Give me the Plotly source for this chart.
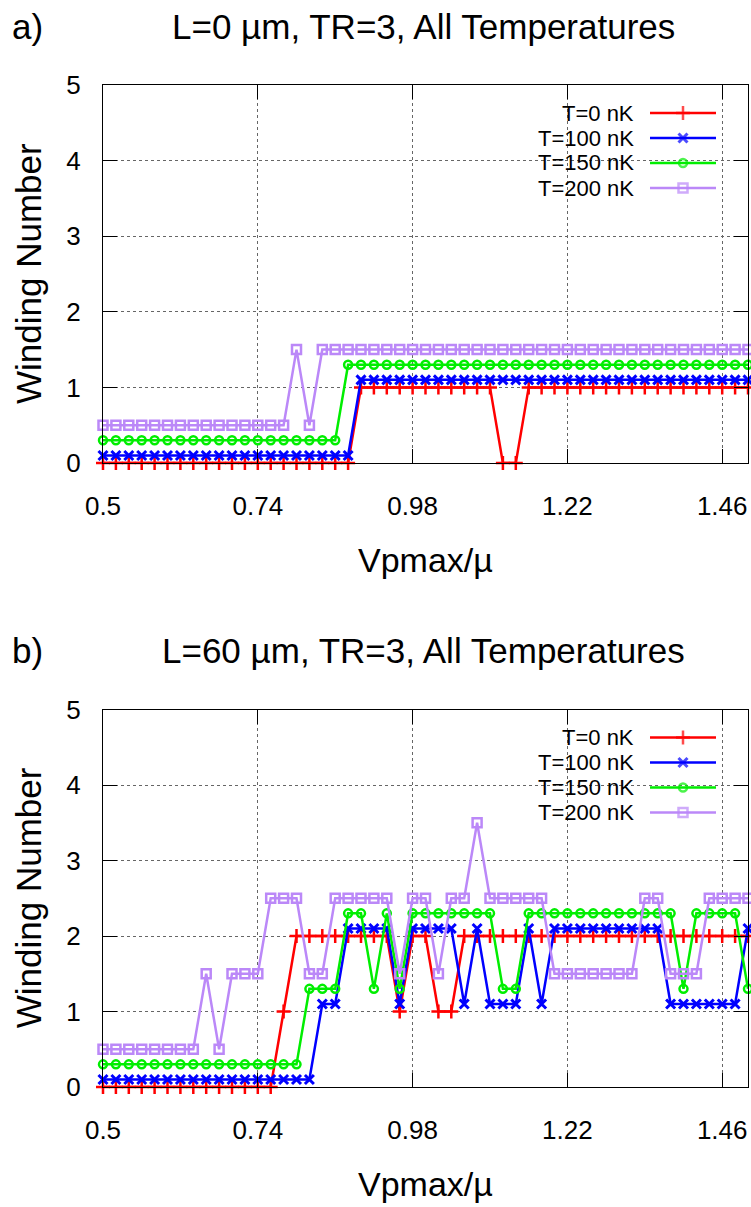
import plotly.graph_objects as go

# ---------------- data ----------------
vp = [0.50, 0.52, 0.54, 0.56, 0.58, 0.60, 0.62, 0.64, 0.66, 0.68,
      0.70, 0.72, 0.74, 0.76, 0.78, 0.80, 0.82, 0.84, 0.86, 0.88,
      0.90, 0.92, 0.94, 0.96, 0.98, 1.00, 1.02, 1.04, 1.06, 1.08,
      1.10, 1.12, 1.14, 1.16, 1.18, 1.20, 1.22, 1.24, 1.26, 1.28,
      1.30, 1.32, 1.34, 1.36, 1.38, 1.40, 1.42, 1.44, 1.46, 1.48,
      1.50]

a_T0 = [0, 0, 0, 0, 0, 0, 0, 0, 0, 0,
        0, 0, 0, 0, 0, 0, 0, 0, 0, 0,
        1, 1, 1, 1, 1, 1, 1, 1, 1, 1,
        1, 0, 0, 1, 1, 1, 1, 1, 1, 1,
        1, 1, 1, 1, 1, 1, 1, 1, 1, 1,
        1]
a_T100 = [0.1, 0.1, 0.1, 0.1, 0.1, 0.1, 0.1, 0.1, 0.1, 0.1,
          0.1, 0.1, 0.1, 0.1, 0.1, 0.1, 0.1, 0.1, 0.1, 0.1,
          1.1, 1.1, 1.1, 1.1, 1.1, 1.1, 1.1, 1.1, 1.1, 1.1,
          1.1, 1.1, 1.1, 1.1, 1.1, 1.1, 1.1, 1.1, 1.1, 1.1,
          1.1, 1.1, 1.1, 1.1, 1.1, 1.1, 1.1, 1.1, 1.1, 1.1,
          1.1]
a_T150 = [0.3, 0.3, 0.3, 0.3, 0.3, 0.3, 0.3, 0.3, 0.3, 0.3,
          0.3, 0.3, 0.3, 0.3, 0.3, 0.3, 0.3, 0.3, 0.3, 1.3,
          1.3, 1.3, 1.3, 1.3, 1.3, 1.3, 1.3, 1.3, 1.3, 1.3,
          1.3, 1.3, 1.3, 1.3, 1.3, 1.3, 1.3, 1.3, 1.3, 1.3,
          1.3, 1.3, 1.3, 1.3, 1.3, 1.3, 1.3, 1.3, 1.3, 1.3,
          1.3]
a_T200 = [0.5, 0.5, 0.5, 0.5, 0.5, 0.5, 0.5, 0.5, 0.5, 0.5,
          0.5, 0.5, 0.5, 0.5, 0.5, 1.5, 0.5, 1.5, 1.5, 1.5,
          1.5, 1.5, 1.5, 1.5, 1.5, 1.5, 1.5, 1.5, 1.5, 1.5,
          1.5, 1.5, 1.5, 1.5, 1.5, 1.5, 1.5, 1.5, 1.5, 1.5,
          1.5, 1.5, 1.5, 1.5, 1.5, 1.5, 1.5, 1.5, 1.5, 1.5,
          1.5]

b_T0 = [0, 0, 0, 0, 0, 0, 0, 0, 0, 0,
        0, 0, 0, 0, 1, 2, 2, 2, 2, 2,
        2, 2, 2, 1, 2, 2, 1, 1, 2, 2,
        2, 2, 2, 2, 2, 2, 2, 2, 2, 2,
        2, 2, 2, 2, 2, 2, 2, 2, 2, 2,
        2]
b_T100 = [0.1, 0.1, 0.1, 0.1, 0.1, 0.1, 0.1, 0.1, 0.1, 0.1,
          0.1, 0.1, 0.1, 0.1, 0.1, 0.1, 0.1, 1.1, 1.1, 2.1,
          2.1, 2.1, 2.1, 1.1, 2.1, 2.1, 2.1, 2.1, 1.1, 2.1,
          1.1, 1.1, 1.1, 2.1, 1.1, 2.1, 2.1, 2.1, 2.1, 2.1,
          2.1, 2.1, 2.1, 2.1, 1.1, 1.1, 1.1, 1.1, 1.1, 1.1,
          2.1]
b_T150 = [0.3, 0.3, 0.3, 0.3, 0.3, 0.3, 0.3, 0.3, 0.3, 0.3,
          0.3, 0.3, 0.3, 0.3, 0.3, 0.3, 1.3, 1.3, 1.3, 2.3,
          2.3, 1.3, 2.3, 1.3, 2.3, 2.3, 2.3, 2.3, 2.3, 2.3,
          2.3, 1.3, 1.3, 2.3, 2.3, 2.3, 2.3, 2.3, 2.3, 2.3,
          2.3, 2.3, 2.3, 2.3, 2.3, 1.3, 2.3, 2.3, 2.3, 2.3,
          1.3]
b_T200 = [0.5, 0.5, 0.5, 0.5, 0.5, 0.5, 0.5, 0.5, 1.5, 0.5,
          1.5, 1.5, 1.5, 2.5, 2.5, 2.5, 1.5, 1.5, 2.5, 2.5,
          2.5, 2.5, 2.5, 1.5, 2.5, 2.5, 1.5, 2.5, 2.5, 3.5,
          2.5, 2.5, 2.5, 2.5, 2.5, 1.5, 1.5, 1.5, 1.5, 1.5,
          1.5, 1.5, 2.5, 2.5, 1.5, 1.5, 1.5, 2.5, 2.5, 2.5,
          2.5]

series_names = ["T=0 nK", "T=100 nK", "T=150 nK", "T=200 nK"]
panel_a = [a_T0, a_T100, a_T150, a_T200]
panel_b = [b_T0, b_T100, b_T150, b_T200]
panel_titles = ["L=0 µm, TR=3, All Temperatures", "L=60 µm, TR=3, All Temperatures"]
panel_tags = ["a)", "b)"]

x_tickvals = [0.5, 0.74, 0.98, 1.22, 1.46]
x_ticktext = ["0.5", "0.74", "0.98", "1.22", "1.46"]
y_tickvals = [0, 1, 2, 3, 4, 5]

# ---------------- styles ----------------
W, H = 751, 1207
FONT = "Liberation Sans, Arial, sans-serif"
colors = ["#ff0000", "#0000ff", "#00ee00", "#bb88f8"]
symbols = ["cross-thin", "x-thin", "circle-open", "square-open"]
msizes = [10, 9, 8, 9]
mlw = [2.5, 3, 2.5, 2.5]
LW = 2.5

# pixel layout of the two plot areas (left, right, top, bottom)
X_L, X_R = 103, 748
panels_px = [(85, 463), (709.5, 1087)]

def fx(px):
    return px / W

def fy(py):
    return 1 - py / H

fig = go.Figure()

for p, (data, (top, bot)) in enumerate(zip([panel_a, panel_b], panels_px)):
    xa = "x" if p == 0 else "x2"
    ya = "y" if p == 0 else "y2"
    for k in range(4):
        fig.add_trace(go.Scatter(
            x=vp, y=data[k], mode="lines+markers", name=series_names[k],
            xaxis=xa, yaxis=ya, showlegend=False, cliponaxis=False,
            line=dict(color=colors[k], width=LW),
            marker=dict(symbol=symbols[k], size=msizes[k], color=colors[k],
                        line=dict(color=colors[k], width=mlw[k])),
        ))
    axis_common = dict(
        showline=True, linecolor="black", linewidth=1, mirror="ticks",
        ticks="inside", ticklen=14, tickcolor="black", tickwidth=1,
        showgrid=True, gridcolor="#666666", griddash="dot", gridwidth=1,
        zeroline=False, automargin=False,
        tickfont=dict(family=FONT, size=26, color="black"),
    )
    xkey = "xaxis" if p == 0 else "xaxis2"
    ykey = "yaxis" if p == 0 else "yaxis2"
    fig.update_layout({
        xkey: dict(axis_common, domain=[fx(X_L), fx(X_R)], range=[0.5, 1.5],
                   tickvals=x_tickvals, ticktext=x_ticktext, anchor=ya,
                   ticklabelstandoff=20),
        ykey: dict(axis_common, domain=[fy(bot), fy(top)], range=[0, 5],
                   tickvals=y_tickvals, anchor=xa, ticklabelstandoff=16),
    })

    # title, tag, axis titles
    fig.add_annotation(text=panel_tags[p], xref="paper", yref="paper",
                       x=fx(10), y=fy(top - 59), xanchor="left", yanchor="middle",
                       showarrow=False, font=dict(family=FONT, size=35, color="black"))
    fig.add_annotation(text=panel_titles[p], xref="paper", yref="paper",
                       x=fx(423), y=fy(top - 59), xanchor="center", yanchor="middle",
                       showarrow=False, font=dict(family=FONT, size=35, color="black"))
    fig.add_annotation(text="Winding Number", xref="paper", yref="paper",
                       x=fx(28), y=fy((top + bot) / 2), textangle=-90,
                       xanchor="center", yanchor="middle",
                       showarrow=False, font=dict(family=FONT, size=35, color="black"))
    fig.add_annotation(text="Vpmax/µ", xref="paper", yref="paper",
                       x=fx(425), y=fy(bot + 118), xanchor="center", yanchor="bottom",
                       showarrow=False, font=dict(family=FONT, size=34, color="black"))

    # opaque key box (hides the grid under the key)
    fig.add_shape(type="rect", xref="paper", yref="paper",
                  x0=fx(537), x1=fx(727), y0=fy(top + 115), y1=fy(top + 15),
                  fillcolor="white", line=dict(width=0), layer="between")

    # key entries: text then sample line with one marker
    for k in range(4):
        row_y = fy(top + 28 + 25 * k)
        fig.add_annotation(text=series_names[k], xref="paper", yref="paper",
                           x=fx(636), y=row_y, xanchor="right", yanchor="middle",
                           showarrow=False, font=dict(family=FONT, size=22, color="black"))
        fig.add_trace(go.Scatter(
            x=[fx(650), fx(683), fx(716)], y=[row_y] * 3, xaxis="x3", yaxis="y3",
            mode="lines+markers", showlegend=False, cliponaxis=False, hoverinfo="skip",
            line=dict(color=colors[k], width=LW),
            marker=dict(symbol=symbols[k], size=[0, msizes[k], 0], color=colors[k],
                        line=dict(color=colors[k], width=mlw[k])),
        ))

fig.update_layout(
    xaxis3=dict(domain=[0, 1], range=[0, 1], visible=False, anchor="y3", automargin=False),
    yaxis3=dict(domain=[0, 1], range=[0, 1], visible=False, anchor="x3", automargin=False),
    width=W, height=H,
    margin=dict(l=0, r=0, t=0, b=0, autoexpand=False),
    paper_bgcolor="white", plot_bgcolor="rgba(0,0,0,0)",
    showlegend=False,
    font=dict(family=FONT, color="black"),
)

fig.write_html("out.html")
